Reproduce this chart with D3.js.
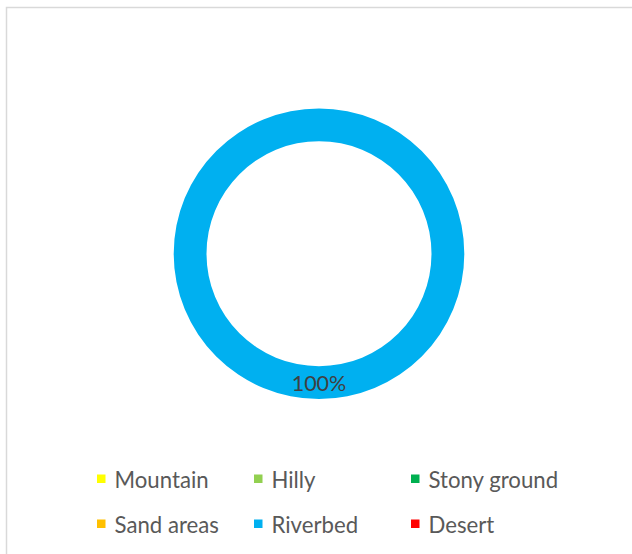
<!DOCTYPE html>
<html>
<head>
<meta charset="utf-8">
<script src="https://cdn.jsdelivr.net/npm/d3@7"></script>
<style>
  html, body { margin: 0; padding: 0; background: #fff; }
  svg { display: block; }
</style>
</head>
<body>
<svg id="chart" width="632" height="554"></svg>
<script>
// Terrain categories and their share of the total
const categories = ["Mountain", "Hilly", "Stony ground", "Sand areas", "Riverbed", "Desert"];
const values = [0, 0, 0, 0, 100, 0];
const colors = ["#FFFF00", "#92D050", "#00B050", "#FFC000", "#00B0F0", "#FF0000"];

const svg = d3.select("#chart");
const W = 632, H = 554;

// chart area frame (only top and left edges fall inside the view)
svg.append("rect")
  .attr("x", 6.5).attr("y", 7.5)
  .attr("width", W + 10).attr("height", H + 10)
  .attr("fill", "#fff")
  .attr("stroke", "#d9d9d9")
  .attr("stroke-width", 1.5);

const cx = 319, cy = 253.7;
const outerR = 145.3, innerR = 112.5;

const data = categories.map((c, i) => ({ name: c, value: values[i], color: colors[i] }));
const total = d3.sum(values);

const pie = d3.pie().value(d => d.value).sort(null);
const arc = d3.arc().innerRadius(innerR).outerRadius(outerR);

const g = svg.append("g").attr("transform", `translate(${cx},${cy})`);
const arcs = pie(data);

g.selectAll("path.slice")
  .data(arcs)
  .join("path")
  .attr("class", "slice")
  .attr("d", arc)
  .attr("fill", d => d.data.color);

// percentage labels on non-empty slices
const pct = d3.format(".0%");
g.selectAll("text.lbl")
  .data(arcs.filter(d => d.data.value > 0))
  .join("text")
  .attr("class", "lbl")
  .attr("x", d => arc.centroid(d)[0])
  .attr("y", d => arc.centroid(d)[1])
  .attr("text-anchor", "middle")
  .attr("dominant-baseline", "central")
  .attr("font-family", "Lato, 'Open Sans', sans-serif")
  .attr("font-size", 21.5)
  .attr("fill", "#404040")
  .text(d => pct(d.data.value / total));

// legend: three columns, two rows
const cols = 3;
const legX = d3.scalePoint().domain(d3.range(cols)).range([97, 411]);
const legY = d3.scalePoint().domain([0, 1]).range([479, 524]);

const leg = svg.append("g");
const items = leg.selectAll("g.item")
  .data(data)
  .join("g")
  .attr("class", "item")
  .attr("transform", (d, i) => `translate(${legX(i % cols)},${legY(Math.floor(i / cols))})`);

items.append("rect")
  .attr("x", 0).attr("y", -4.5)
  .attr("width", 8.5).attr("height", 8.5)
  .attr("fill", d => d.color);

items.append("text")
  .attr("x", 17.5)
  .attr("y", 0)
  .attr("dominant-baseline", "central")
  .attr("font-family", "Lato, 'Open Sans', sans-serif")
  .attr("font-size", 22.2)
  .attr("fill", "#595959")
  .text(d => d.name);
</script>
</body>
</html>
